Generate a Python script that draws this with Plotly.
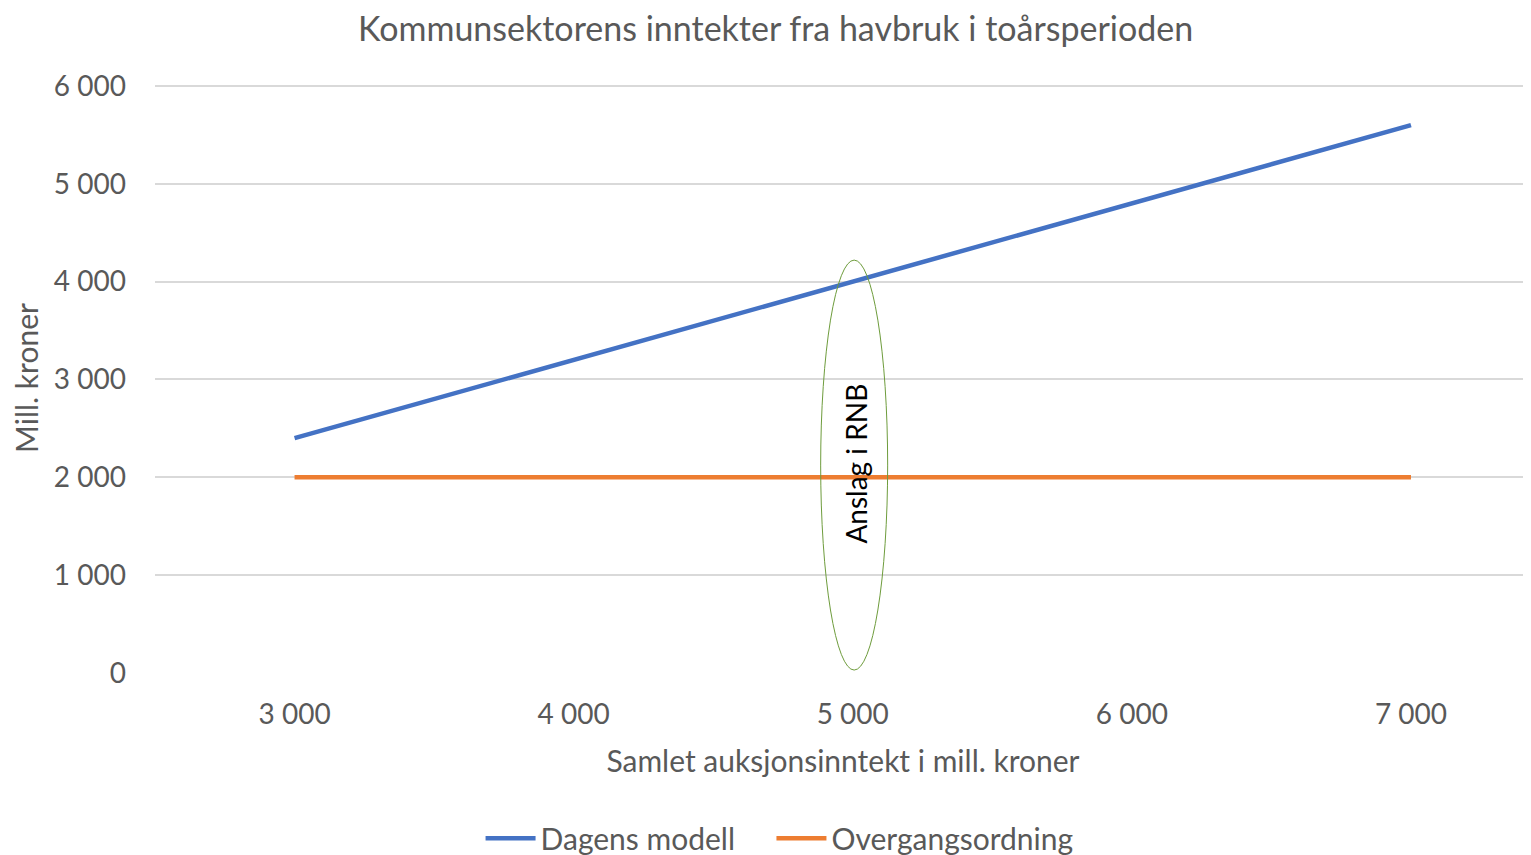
import plotly.graph_objects as go

# Data
auksjon = [3000, 4000, 5000, 6000, 7000]
dagens_modell = [2400, 3200, 4000, 4800, 5600]
overgangsordning = [2000, 2000, 2000, 2000, 2000]
x_ticks = [3000, 4000, 5000, 6000, 7000]
x_labels = ["3 000", "4 000", "5 000", "6 000", "7 000"]
y_ticks = [0, 1000, 2000, 3000, 4000, 5000, 6000]
y_labels = ["0", "1 000", "2 000", "3 000", "4 000", "5 000", "6 000"]

# "Anslag i RNB" ellipse bounds (data units)
rnb_x = [4885, 5125]
rnb_y = [30, 4220]

FONT = "Lato, 'Open Sans', sans-serif"
GREY = "#595959"

fig = go.Figure()

fig.add_trace(go.Scatter(
    x=auksjon, y=dagens_modell, mode="lines", name="Dagens modell",
    line=dict(color="#4472C4", width=4.5), legend="legend",
))
fig.add_trace(go.Scatter(
    x=auksjon, y=overgangsordning, mode="lines", name="Overgangsordning",
    line=dict(color="#ED7D31", width=4.5), legend="legend2",
))

fig.add_shape(
    type="circle", xref="x", yref="y",
    x0=rnb_x[0], x1=rnb_x[1], y0=rnb_y[0], y1=rnb_y[1],
    line=dict(color="#6E9C3C", width=1),
)
fig.add_annotation(
    x=5010, y=2136, text="Anslag i RNB", textangle=-90, showarrow=False,
    font=dict(family=FONT, size=28, color="#000000"),
)

legend_style = dict(
    orientation="h", xanchor="left", y=-0.28, yanchor="middle",
    font=dict(size=30, color=GREY), itemwidth=50,
)

# page body has an 8px margin, so the figure is 8px smaller each way
fig.update_layout(
    width=1523, height=847,
    margin=dict(l=147, r=0, t=75, b=182, autoexpand=False),
    paper_bgcolor="white", plot_bgcolor="white",
    font=dict(family=FONT, size=28, color=GREY),
    title=dict(
        text="Kommunsektorens inntekter fra havbruk i toårsperioden",
        x=0.504, xanchor="center", y=0.975, yanchor="middle",
        font=dict(family=FONT, size=34, color=GREY),
    ),
    xaxis=dict(
        range=[2500, 7430], tickvals=x_ticks, ticktext=x_labels,
        showgrid=False, zeroline=False, showline=False, automargin=False,
        ticklabelstandoff=22,
        title=dict(text="Samlet auksjonsinntekt i mill. kroner", standoff=21,
                   font=dict(size=30, color=GREY)),
    ),
    yaxis=dict(
        range=[0, 6030], tickvals=y_ticks, ticktext=y_labels,
        showgrid=True, gridcolor="#D9D9D9", gridwidth=1.5,
        zeroline=False, showline=False, automargin=False,
        ticklabelstandoff=28,
        title=dict(text="Mill. kroner", standoff=11,
                   font=dict(size=30, color=GREY)),
    ),
    legend=dict(x=0.2366, **legend_style),
    legend2=dict(x=0.448, **legend_style),
    showlegend=True,
)

fig.write_html("out.html")
